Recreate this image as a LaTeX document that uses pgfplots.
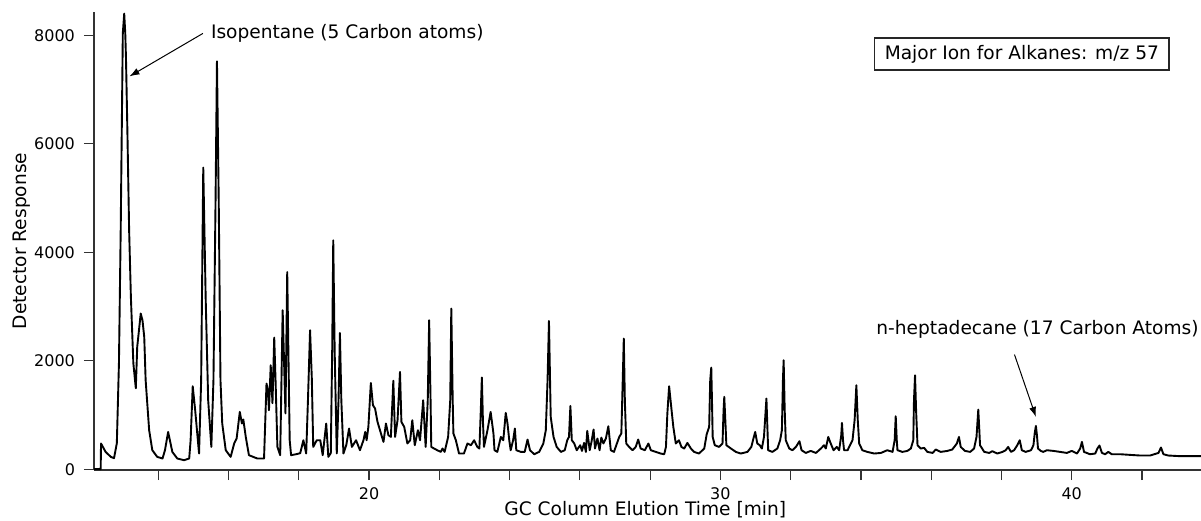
\documentclass[border=0pt]{standalone}
\usepackage{pgfplots}
\pgfplotsset{compat=1.18}
\usepackage{fontspec}
\setmainfont{DejaVu Sans}
\usetikzlibrary{arrows.meta}
\begin{document}
\begin{tikzpicture}
\begin{axis}[
  scale only axis, width=553.5pt, height=229pt,
  xmin=12.17, xmax=43.68, ymin=-15, ymax=8430,
  clip=false,
  axis lines=left, axis line style={-, black!80, line width=0.6pt},
  tick style={black!80, line width=0.6pt},
  tick align=outside, major tick length=5pt, minor tick length=5pt,
  xtick={20,30,40},
  minor xtick={14,16,18,22,24,26,28,32,34,36,38,42},
  ytick={0,2000,4000,6000,8000},
  scaled y ticks=false,
  /pgf/number format/set thousands separator={},
  /pgf/number format/assume math mode=true,
  tick label style={font=\fontsize{8}{9.6}\selectfont},
  yticklabel style={xshift=-1pt},
  xticklabel style={yshift=-0.5pt},
  every axis plot/.append style={line width=0.95pt},
]
\addplot[black, line join=round] coordinates {
(12.17,0) (12.36,0) (12.37,474) (12.50,319) (12.65,227) (12.74,203) (12.82,479)
(12.88,1954) (12.93,4405) (12.99,8035) (13.03,8400) (13.06,8035) (13.08,7593)
(13.12,6248) (13.17,4405) (13.22,3175) (13.29,1954) (13.36,1493) (13.40,2254)
(13.50,2870) (13.55,2746) (13.60,2438) (13.64,1640) (13.74,719) (13.83,350)
(13.97,227) (14.12,197) (14.19,350) (14.28,687) (14.40,319) (14.54,197)
(14.73,166) (14.88,197) (14.92,534) (14.98,1530) (15.05,1087) (15.16,289)
(15.22,1640) (15.28,5560) (15.35,3115) (15.42,1272) (15.51,411) (15.57,1640)
(15.63,4958) (15.67,7519) (15.72,4958) (15.77,1640) (15.82,842) (15.92,350)
(16.06,227) (16.16,474) (16.23,566) (16.32,1056) (16.38,842) (16.42,916)
(16.49,595) (16.58,258) (16.82,197) (17.01,197) (17.08,1579) (17.12,1456)
(17.15,1087) (17.20,1917) (17.25,1216) (17.30,2427) (17.34,1585) (17.39,411)
(17.47,258) (17.54,2930) (17.62,1027) (17.67,3636) (17.74,534) (17.78,258)
(17.92,276) (18.04,295) (18.13,534) (18.21,289) (18.26,1272) (18.32,2562)
(18.37,1672) (18.41,411) (18.51,534) (18.61,534) (18.68,258) (18.78,842)
(18.84,227) (18.91,295) (18.95,2193) (18.98,4220) (19.02,2193) (19.08,289)
(19.13,1272) (19.17,2512) (19.21,1272) (19.27,289) (19.35,442) (19.43,750)
(19.51,411) (19.63,534) (19.74,350) (19.84,534) (19.89,687) (19.93,534)
(19.98,780) (20.05,1590) (20.11,1180) (20.17,1119) (20.24,872) (20.31,719)
(20.41,503) (20.48,842) (20.55,627) (20.62,595) (20.69,1631) (20.74,595)
(20.81,903) (20.88,1793) (20.92,872) (21.00,780) (21.09,474) (21.17,534)
(21.23,903) (21.30,442) (21.39,719) (21.45,534) (21.54,1272) (21.61,411)
(21.67,1272) (21.71,2746) (21.75,1272) (21.77,411) (21.85,381) (21.94,350)
(22.04,319) (22.09,381) (22.15,319) (22.25,595) (22.31,1272) (22.34,2962)
(22.38,1272) (22.40,658) (22.47,534) (22.56,289) (22.70,289) (22.80,474)
(22.90,442) (22.99,534) (23.08,411) (23.14,381) (23.18,1087) (23.21,1690)
(23.24,903) (23.27,411) (23.37,719) (23.46,1056) (23.54,658) (23.57,350)
(23.65,319) (23.75,595) (23.82,534) (23.89,1038) (23.94,842) (23.99,534)
(24.03,350) (24.10,534) (24.15,750) (24.19,350) (24.32,319) (24.43,319)
(24.51,547) (24.58,350) (24.70,276) (24.84,319) (24.96,474) (25.03,719)
(25.08,1640) (25.12,2733) (25.17,964) (25.25,595) (25.34,411) (25.46,319)
(25.57,350) (25.64,534) (25.69,595) (25.73,1167) (25.77,534) (25.84,474)
(25.91,350) (26.01,442) (26.06,337) (26.12,485) (26.17,319) (26.21,706)
(26.28,350) (26.33,503) (26.39,732) (26.43,381) (26.50,566) (26.56,350)
(26.61,584) (26.67,474) (26.74,566) (26.81,792) (26.88,350) (26.97,319)
(27.12,595) (27.18,658) (27.22,1640) (27.25,2409) (27.28,1272) (27.32,474)
(27.40,411) (27.50,350) (27.59,411) (27.66,547) (27.73,381) (27.85,350)
(27.95,474) (28.02,350) (28.16,319) (28.30,289) (28.40,276) (28.45,411)
(28.49,1027) (28.54,1530) (28.61,1087) (28.66,780) (28.73,474) (28.82,534)
(28.89,411) (28.97,381) (29.06,485) (29.16,381) (29.25,319) (29.39,289)
(29.54,381) (29.61,645) (29.68,780) (29.71,1640) (29.74,1874) (29.76,1272)
(29.78,595) (29.84,442) (29.96,411) (30.06,474) (30.09,1087) (30.11,1333)
(30.14,903) (30.17,442) (30.30,381) (30.44,319) (30.58,289) (30.77,319)
(30.88,411) (30.94,566) (30.99,687) (31.05,474) (31.12,442) (31.18,381)
(31.24,595) (31.31,1303) (31.34,719) (31.36,350) (31.48,319) (31.62,381)
(31.70,534) (31.75,719) (31.78,1640) (31.80,2009) (31.83,1087) (31.86,534)
(31.96,381) (32.05,350) (32.15,411) (32.25,516) (32.31,350) (32.43,300)
(32.57,337) (32.72,300) (32.86,381) (32.95,442) (33.00,381) (33.07,595)
(33.14,474) (33.22,350) (33.31,411) (33.38,350) (33.44,627) (33.46,853)
(33.49,534) (33.52,350) (33.62,350) (33.76,534) (33.82,903) (33.87,1548)
(33.91,903) (33.95,474) (34.04,350) (34.18,319) (34.38,289) (34.57,300)
(34.75,350) (34.90,319) (34.96,534) (34.99,977) (35.02,534) (35.04,350)
(35.18,319) (35.32,337) (35.42,381) (35.49,534) (35.51,1272) (35.54,1732)
(35.57,1087) (35.61,442) (35.70,381) (35.80,393) (35.89,319) (36.04,300)
(36.13,363) (36.27,319) (36.46,337) (36.60,363) (36.73,474) (36.79,595)
(36.84,411) (36.96,337) (37.11,319) (37.22,381) (37.29,595) (37.34,1100)
(37.37,719) (37.39,442) (37.51,319) (37.65,300) (37.74,332) (37.88,289)
(38.03,319) (38.12,350) (38.19,411) (38.27,319) (38.36,350) (38.45,442)
(38.52,534) (38.58,350) (38.69,319) (38.84,350) (38.91,442) (38.95,682)
(38.98,798) (39.01,627) (39.04,381) (39.12,337) (39.19,319) (39.29,350)
(39.48,337) (39.67,319) (39.86,300) (40.00,337) (40.15,289) (40.24,381)
(40.29,503) (40.35,319) (40.52,276) (40.67,289) (40.73,381) (40.79,437)
(40.86,300) (40.95,276) (41.04,319) (41.14,276) (41.38,276) (41.66,264)
(41.95,252) (42.23,252) (42.47,300) (42.54,400) (42.61,276) (42.75,252)
(43.09,240) (43.37,240) (43.68,240)
};
\coordinate (SW) at (rel axis cs:0,0);
\coordinate (NE) at (rel axis cs:1,1);
\node[rotate=90, anchor=base, font=\fontsize{9.3}{11}\selectfont] at (rel axis cs:-0.061,0.5) {Detector Response};
\node[anchor=base, font=\fontsize{9.3}{11}\selectfont] at (rel axis cs:0.498,-0.0987) {GC Column Elution Time [min]};
\node[anchor=base west, font=\fontsize{9.3}{11}\selectfont, inner sep=0pt] at (axis cs:15.49,7940) {Isopentane (5 Carbon atoms)};
\draw[line width=0.5pt, -{Latex[length=5pt,width=3.5pt]}] (axis cs:15.27,8035) -- (axis cs:13.18,7243);
\node[anchor=base west, font=\fontsize{9.3}{11}\selectfont, inner sep=0pt] at (axis cs:34.43,2488) {n-heptadecane (17 Carbon Atoms)};
\draw[line width=0.5pt, -{Latex[length=5pt,width=3.5pt]}] (axis cs:38.37,2114) -- (axis cs:38.98,964);
\node[draw=black!85, line width=0.6pt, fill=white, font=\fontsize{9.3}{11}\selectfont, inner xsep=5pt, minimum height=16pt] at (axis cs:38.58,7654) {Major Ion for Alkanes: m/z 57};
\end{axis}
\pgfresetboundingbox
\path ([xshift=-47pt,yshift=-25pt]SW) rectangle ([yshift=6pt]NE);
\end{tikzpicture}
\end{document}
